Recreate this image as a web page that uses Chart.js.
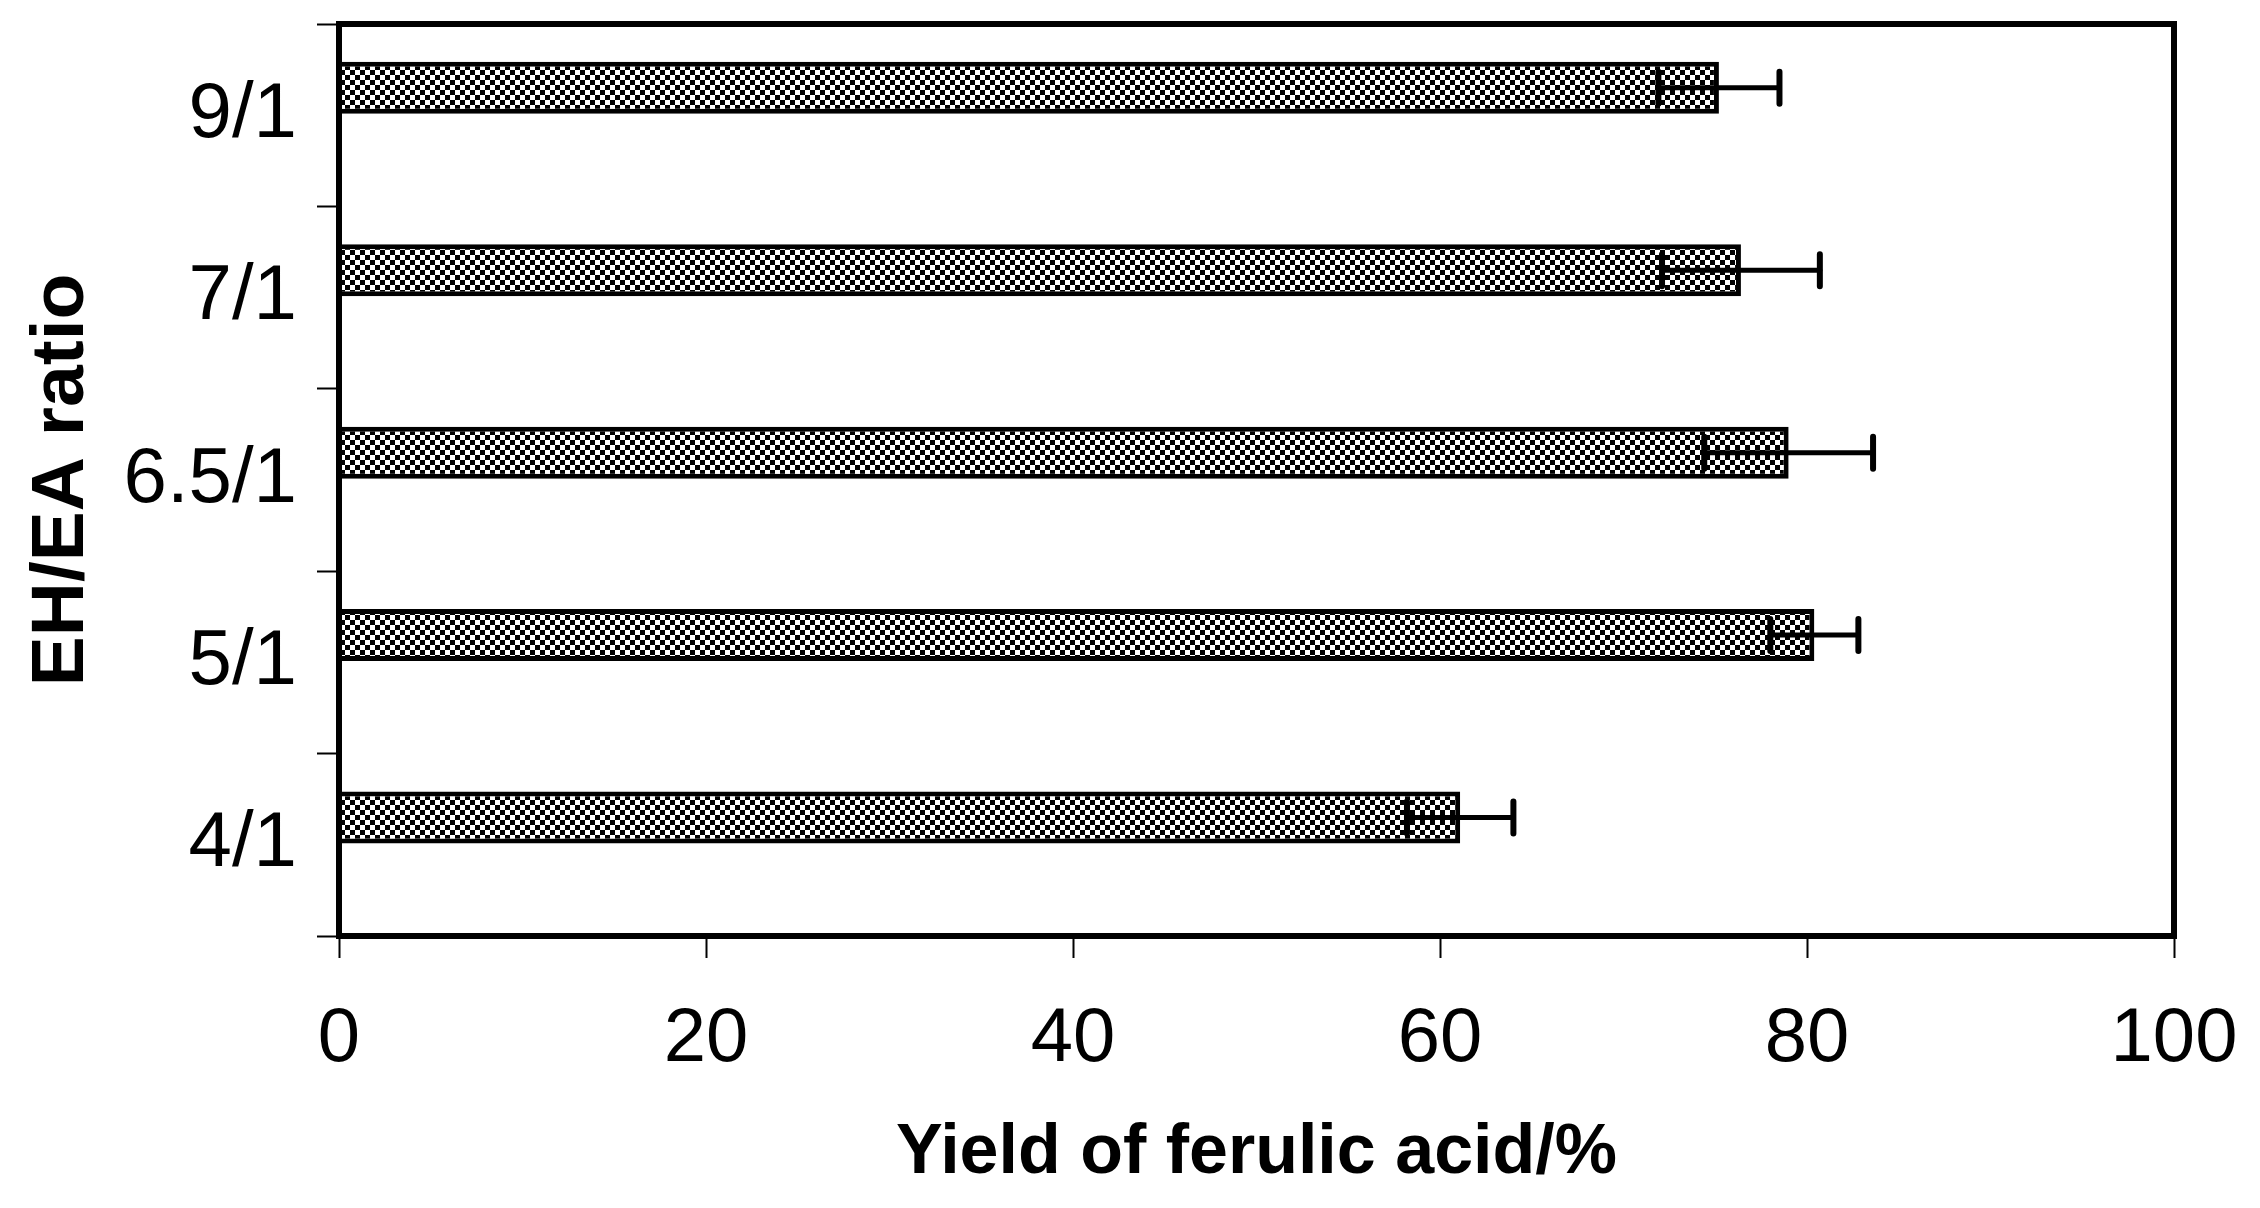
<!DOCTYPE html>
<html lang="en">
<head>
  <meta charset="UTF-8" />
  <title>Yield of ferulic acid vs EH/EA ratio</title>
  <style>
    body {
      margin: 0;
      background: #fff;
    }
    #chart {
      display: block;
      width: 2260px;
      height: 1208px;
    }
  </style>
</head>
<body>

<canvas id="chart" width="2260" height="1208"></canvas>

<script src="https://cdn.jsdelivr.net/npm/chart.js"></script>
<script>
  // categories listed top to bottom as in the figure
  const ratios = ['9/1', '7/1', '6.5/1', '5/1', '4/1'];
  const yieldValues = [75.2, 76.4, 79.0, 80.4, 61.1];
  const yieldErrors = [3.3, 4.3, 4.6, 2.4, 2.9];
  const xTicks = [0, 20, 40, 60, 80, 100];

  const fontFamily = "'Liberation Sans', Arial, sans-serif";

  // small checker pattern like the original bar fill
  function makeChecker() {
    const c = document.createElement('canvas');
    c.width = 10;
    c.height = 10;
    const g = c.getContext('2d');
    g.fillStyle = '#fff';
    g.fillRect(0, 0, 10, 10);
    g.fillStyle = '#000';
    g.fillRect(0, 0, 5, 5);
    g.fillRect(5, 5, 5, 5);
    return g.createPattern(c, 'repeat');
  }

  const errorBars = {
    id: 'errorBars',
    afterDatasetsDraw(chart) {
      const ctx = chart.ctx;
      const xScale = chart.scales.x;
      const meta = chart.getDatasetMeta(0);
      ctx.save();
      ctx.strokeStyle = '#000';
      ctx.lineCap = 'round';
      meta.data.forEach((bar, i) => {
        const lo = xScale.getPixelForValue(yieldValues[i] - yieldErrors[i]);
        const hi = xScale.getPixelForValue(yieldValues[i] + yieldErrors[i]);
        const y = bar.y;
        ctx.lineWidth = 5;
        ctx.beginPath();
        ctx.moveTo(lo, y);
        ctx.lineTo(hi, y);
        ctx.stroke();
        ctx.lineWidth = 6;
        ctx.beginPath();
        ctx.moveTo(lo, y - 16);
        ctx.lineTo(lo, y + 16);
        ctx.moveTo(hi, y - 16);
        ctx.lineTo(hi, y + 16);
        ctx.stroke();
      });
      ctx.restore();
    }
  };

  const frame = {
    id: 'frame',
    afterDraw(chart) {
      const {ctx, chartArea: a} = chart;
      ctx.save();
      ctx.strokeStyle = '#000';
      ctx.lineWidth = 6;
      ctx.strokeRect(a.left, a.top, a.right - a.left, a.bottom - a.top);
      ctx.restore();
    }
  };

  function noPad(scale) {
    scale.paddingLeft = 0;
    scale.paddingRight = 0;
    scale.paddingTop = 0;
    scale.paddingBottom = 0;
  }

  const ctx = document.getElementById('chart').getContext('2d');

  new Chart(ctx, {
    type: 'bar',
    data: {
      labels: ratios,
      datasets: [
        {
          data: yieldValues,
          backgroundColor: makeChecker(),
          borderColor: '#000',
          borderWidth: 5,
          barPercentage: 0.95,
          categoryPercentage: 0.6
        },
        {
          // empty second slot, keeps bars in the upper half like the original
          data: ratios.map(() => null),
          barPercentage: 0.95,
          categoryPercentage: 0.6
        }
      ]
    },
    options: {
      indexAxis: 'y',
      responsive: false,
      maintainAspectRatio: false,
      animation: false,
      layout: {
        padding: {top: 24, right: 86, left: 0, bottom: 0}
      },
      scales: {
        x: {
          min: 0,
          max: 100,
          afterBuildTicks: scale => {
            scale.ticks = xTicks.map(v => ({value: v}));
          },
          afterFit: scale => {
            scale.height = 272;
            noPad(scale);
          },
          border: {display: false},
          grid: {
            drawOnChartArea: false,
            drawTicks: true,
            tickLength: 22,
            tickWidth: 2,
            tickColor: '#000'
          },
          ticks: {
            color: '#000',
            padding: 36,
            font: {family: fontFamily, size: 76}
          },
          title: {
            display: true,
            text: 'Yield of ferulic acid/%',
            color: '#000',
            padding: {bottom: 12},
            font: {family: fontFamily, size: 70, weight: 'bold'}
          }
        },
        y: {
          afterFit: scale => {
            scale.width = 339;
            noPad(scale);
          },
          border: {display: false},
          grid: {
            drawOnChartArea: false,
            drawTicks: true,
            tickLength: 22,
            tickWidth: 2,
            tickColor: '#000'
          },
          ticks: {
            color: '#000',
            padding: 20,
            font: {family: fontFamily, size: 78}
          },
          title: {
            display: true,
            text: 'EH/EA ratio',
            color: '#000',
            padding: {top: 17},
            font: {family: fontFamily, size: 75, weight: 'bold'}
          }
        }
      },
      plugins: {
        legend: {display: false},
        tooltip: {enabled: false}
      }
    },
    plugins: [errorBars, frame]
  });
</script>

</body>
</html>
